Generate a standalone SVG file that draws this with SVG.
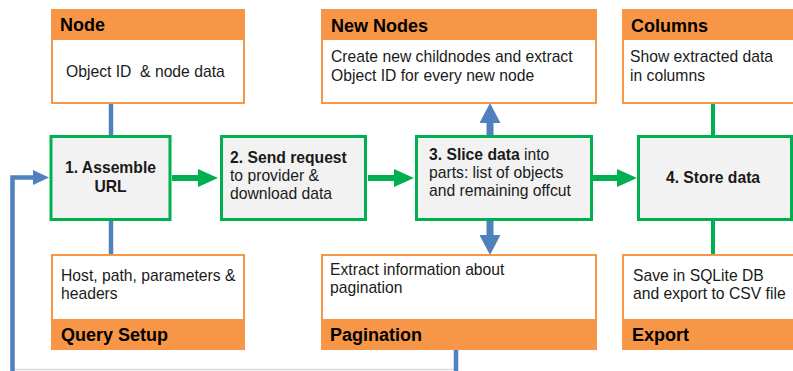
<svg xmlns="http://www.w3.org/2000/svg" width="793" height="371" viewBox="0 0 793 371">
<defs>
<style>
.ob{fill:#ffffff;stroke:#f79646;stroke-width:2}
.oh{fill:#f79646}
.gb{fill:#f2f2f2;stroke:#00b050;stroke-width:3}
.hd{font-family:"Liberation Sans",Arial,sans-serif;font-weight:bold;font-size:18px;fill:#000}
.tx{font-family:"Liberation Sans",Arial,sans-serif;font-size:15.7px;fill:#1a1a1a;white-space:pre}
.bt{font-family:"Liberation Sans",Arial,sans-serif;font-size:15.7px;font-weight:bold;fill:#1a1a1a}
.gl{stroke:#00b050;fill:none}
.bl{stroke:#4f81bd;fill:none}
</style>
<marker id="ga" markerUnits="userSpaceOnUse" markerWidth="20" markerHeight="18" refX="0" refY="9" orient="auto"><path d="M0,0 L20,9 L0,18 z" fill="#00b050"/></marker>
<marker id="ba" markerUnits="userSpaceOnUse" markerWidth="20" markerHeight="21" refX="0" refY="10.5" orient="auto"><path d="M0,0 L20,10.5 L0,21 z" fill="#4f81bd"/></marker>
<marker id="bs" markerUnits="userSpaceOnUse" markerWidth="16" markerHeight="15" refX="0" refY="7.5" orient="auto"><path d="M0,0 L16,7.5 L0,15 z" fill="#4f81bd"/></marker>
</defs>
<rect width="793" height="371" fill="#ffffff"/>
<line x1="12" y1="369.5" x2="456" y2="369.5" stroke="#d9d9d9" stroke-width="1.5"/>

<g id="connectors">
<line class="bl" x1="111" y1="103" x2="111" y2="135" stroke-width="4.5"/>
<line class="bl" x1="111" y1="221" x2="111" y2="255" stroke-width="4.5"/>
<line class="gl" x1="713" y1="103" x2="713" y2="135" stroke-width="4"/>
<line class="gl" x1="713" y1="221" x2="713" y2="255" stroke-width="4"/>
<line class="gl" x1="172" y1="178" x2="198" y2="178" stroke-width="6" marker-end="url(#ga)"/>
<line class="gl" x1="368" y1="178" x2="394" y2="178" stroke-width="6" marker-end="url(#ga)"/>
<line class="gl" x1="593" y1="178" x2="617" y2="178" stroke-width="6" marker-end="url(#ga)"/>
<line class="bl" x1="490" y1="135" x2="490" y2="123" stroke-width="7" marker-end="url(#ba)"/>
<line class="bl" x1="490" y1="221" x2="490" y2="235" stroke-width="7" marker-end="url(#ba)"/>
<path class="bl" d="M456,349 V376 H12.5 V177.5 H33" stroke-width="4.5" marker-end="url(#bs)"/>
</g>

<g id="node">
<rect class="ob" x="52" y="10" width="192" height="93"/>
<rect class="oh" x="51" y="9" width="194" height="31"/>
<text class="hd" x="60" y="31">Node</text>
<text class="tx" x="66" y="77" xml:space="preserve">Object ID  &amp; node data</text>
</g>

<g id="new-nodes">
<rect class="ob" x="322" y="10" width="274" height="93"/>
<rect class="oh" x="321" y="9" width="276" height="31"/>
<text class="hd" x="331" y="32">New Nodes</text>
<text class="tx" x="331" y="62">Create new childnodes and extract</text>
<text class="tx" x="331" y="80.5">Object ID for every new node</text>
</g>

<g id="columns">
<rect class="ob" x="623" y="10" width="180" height="93"/>
<rect class="oh" x="622" y="9" width="182" height="31"/>
<text class="hd" x="631" y="32">Columns</text>
<text class="tx" x="630" y="62">Show extracted data</text>
<text class="tx" x="630" y="80.5">in columns</text>
</g>

<g id="assemble-url">
<rect class="gb" x="51" y="136.5" width="119" height="83"/>
<text class="bt" x="110.5" y="173" text-anchor="middle">1. Assemble</text>
<text class="bt" x="110.5" y="192" text-anchor="middle">URL</text>
</g>

<g id="send-request">
<rect class="gb" x="221.5" y="136.5" width="144" height="83"/>
<text class="bt" x="230" y="162.5">2. Send request</text>
<text class="tx" x="230" y="180.5">to provider &amp;</text>
<text class="tx" x="230" y="198.5">download data</text>
</g>

<g id="slice-data">
<rect class="gb" x="416.5" y="136.5" width="175" height="83"/>
<text x="429" y="160"><tspan class="bt">3. Slice data</tspan><tspan class="tx"> into</tspan></text>
<text class="tx" x="429" y="178">parts: list of objects</text>
<text class="tx" x="429" y="196">and remaining offcut</text>
</g>

<g id="store-data">
<rect class="gb" x="638.5" y="136.5" width="153" height="83"/>
<text class="bt" x="713" y="183" text-anchor="middle">4. Store data</text>
</g>

<g id="query-setup">
<rect class="ob" x="52" y="255" width="192" height="94"/>
<rect class="oh" x="51" y="319" width="194" height="31"/>
<text class="tx" x="61" y="281">Host, path, parameters &amp;</text>
<text class="tx" x="61" y="299">headers</text>
<text class="hd" x="61" y="341">Query Setup</text>
</g>

<g id="pagination">
<rect class="ob" x="322" y="255" width="274" height="94"/>
<rect class="oh" x="321" y="319" width="276" height="31"/>
<text class="tx" x="330" y="275">Extract information about</text>
<text class="tx" x="330" y="293">pagination</text>
<text class="hd" x="330" y="341">Pagination</text>
</g>

<g id="export">
<rect class="ob" x="623" y="255" width="180" height="94"/>
<rect class="oh" x="622" y="319" width="182" height="31"/>
<text class="tx" x="633" y="280.5">Save in SQLite DB</text>
<text class="tx" x="633" y="298.5">and export to CSV file</text>
<text class="hd" x="632" y="341">Export</text>
</g>
</svg>
